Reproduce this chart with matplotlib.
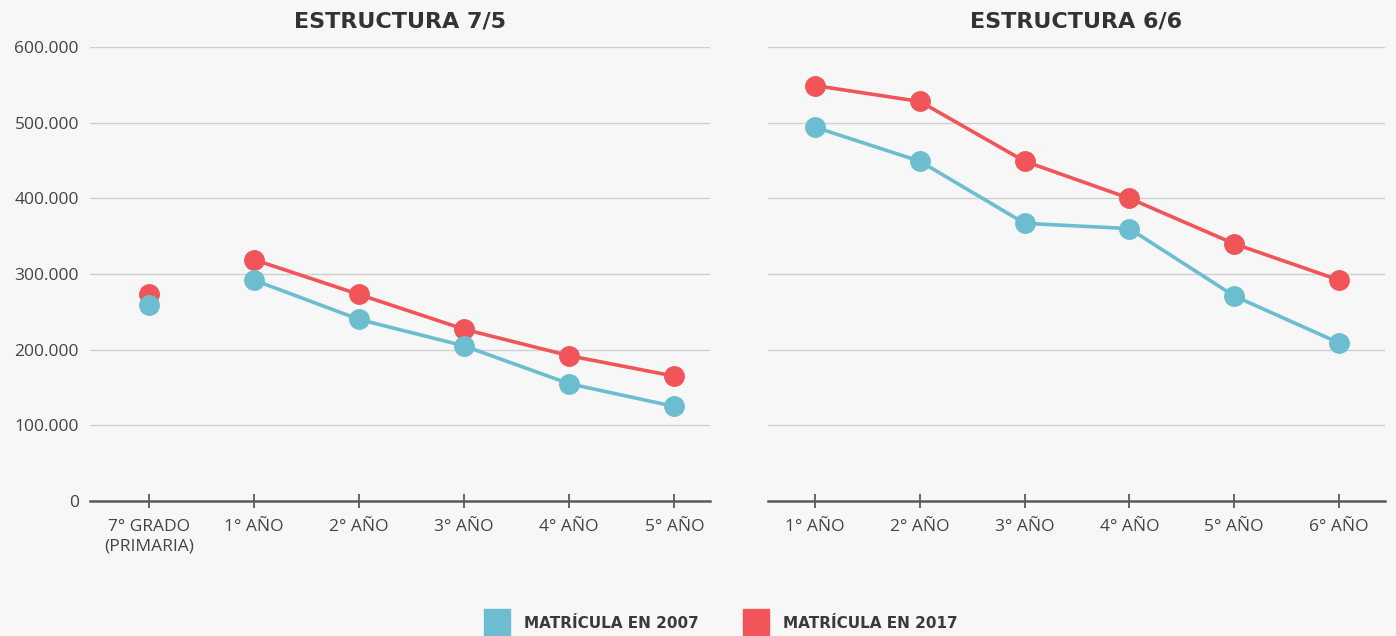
import matplotlib
matplotlib.use("Agg")
import matplotlib.pyplot as plt
from matplotlib.lines import Line2D

plt.rcParams['font.family'] = ['Open Sans', 'DejaVu Sans']

# ---- data ----
cats_75 = ["7° GRADO\n(PRIMARIA)", "1° AÑO", "2° AÑO", "3° AÑO", "4° AÑO", "5° AÑO"]
m2007_75 = [259000, 292000, 240000, 205000, 155000, 125000]
m2017_75 = [273000, 319000, 273000, 227000, 192000, 165000]

cats_66 = ["1° AÑO", "2° AÑO", "3° AÑO", "4° AÑO", "5° AÑO", "6° AÑO"]
m2007_66 = [494000, 449000, 367000, 360000, 271000, 209000]
m2017_66 = [549000, 528000, 449000, 400000, 340000, 292000]

yticks = [0, 100000, 200000, 300000, 400000, 500000, 600000]
ytick_labels = ["0", "100.000", "200.000", "300.000", "400.000", "500.000", "600.000"]

titles = ["ESTRUCTURA 7/5", "ESTRUCTURA 6/6"]
series_names = ["MATRÍCULA EN 2007", "MATRÍCULA EN 2017"]

BLUE = "#6dbdd0"
RED = "#f1555a"
BG = "#f7f7f7"
GRID = "#cfcfcf"
AXIS = "#5a5a5a"
TEXT = "#444444"

W, H = 1396, 636
fig = plt.figure(figsize=(W / 100, H / 100), dpi=100, facecolor=BG)

ax1 = fig.add_axes([90 / W, (H - 501) / H, 620 / W, 454 / H])
ax2 = fig.add_axes([768 / W, (H - 501) / H, 617 / W, 454 / H])

LW = 2.6
MS = 14


def style(ax, cats, xlim, show_ylabels, title):
    ax.set_facecolor(BG)
    ax.set_ylim(0, 600000)
    ax.set_xlim(*xlim)
    ax.set_yticks(yticks)
    if show_ylabels:
        ax.set_yticklabels(ytick_labels, fontsize=12.5, color=TEXT)
    else:
        ax.set_yticklabels([])
    ax.tick_params(axis='y', length=0, pad=8)
    ax.set_xticks(range(len(cats)))
    ax.set_xticklabels(cats, fontsize=12.5, color=TEXT, linespacing=1.25)
    ax.tick_params(axis='x', direction='inout', length=10, width=1.3,
                   color=AXIS, pad=8)
    for s in ['top', 'right', 'left']:
        ax.spines[s].set_visible(False)
    ax.spines['bottom'].set_color(AXIS)
    ax.spines['bottom'].set_linewidth(1.8)
    ax.grid(axis='y', color=GRID, linewidth=1.0)
    ax.set_axisbelow(True)
    ax.set_title(title, fontsize=16, fontweight='bold', color="#333333",
                 pad=14, family='DejaVu Sans')


# Left: 7/5 structure, 7° grado unconnected
x75 = list(range(len(cats_75)))
ax1.plot(x75[1:], m2017_75[1:], color=RED, lw=LW, marker='o', ms=MS, zorder=3)
ax1.plot(x75[:1], m2017_75[:1], color=RED, lw=0, marker='o', ms=MS, zorder=3)
ax1.plot(x75[1:], m2007_75[1:], color=BLUE, lw=LW, marker='o', ms=MS, zorder=4)
ax1.plot(x75[:1], m2007_75[:1], color=BLUE, lw=0, marker='o', ms=MS, zorder=4)
style(ax1, cats_75, (-0.56, 5.34), True, titles[0])

x66 = list(range(len(cats_66)))
ax2.plot(x66, m2017_66, color=RED, lw=LW, marker='o', ms=MS, zorder=3)
ax2.plot(x66, m2007_66, color=BLUE, lw=LW, marker='o', ms=MS, zorder=4)
style(ax2, cats_66, (-0.45, 5.44), False, titles[1])

handles = [Line2D([], [], color=BLUE, marker='s', lw=0, ms=19),
           Line2D([], [], color=RED, marker='s', lw=0, ms=19)]
leg = fig.legend(handles, series_names, loc='center', ncol=2,
                 bbox_to_anchor=(0.5155, 0.02), frameon=False,
                 handletextpad=0.8, columnspacing=2.7,
                 prop={'size': 11, 'weight': 'bold', 'family': 'DejaVu Sans'})
for t in leg.get_texts():
    t.set_color("#3a3a3a")

fig.savefig("out.png", dpi=100, facecolor=BG)
